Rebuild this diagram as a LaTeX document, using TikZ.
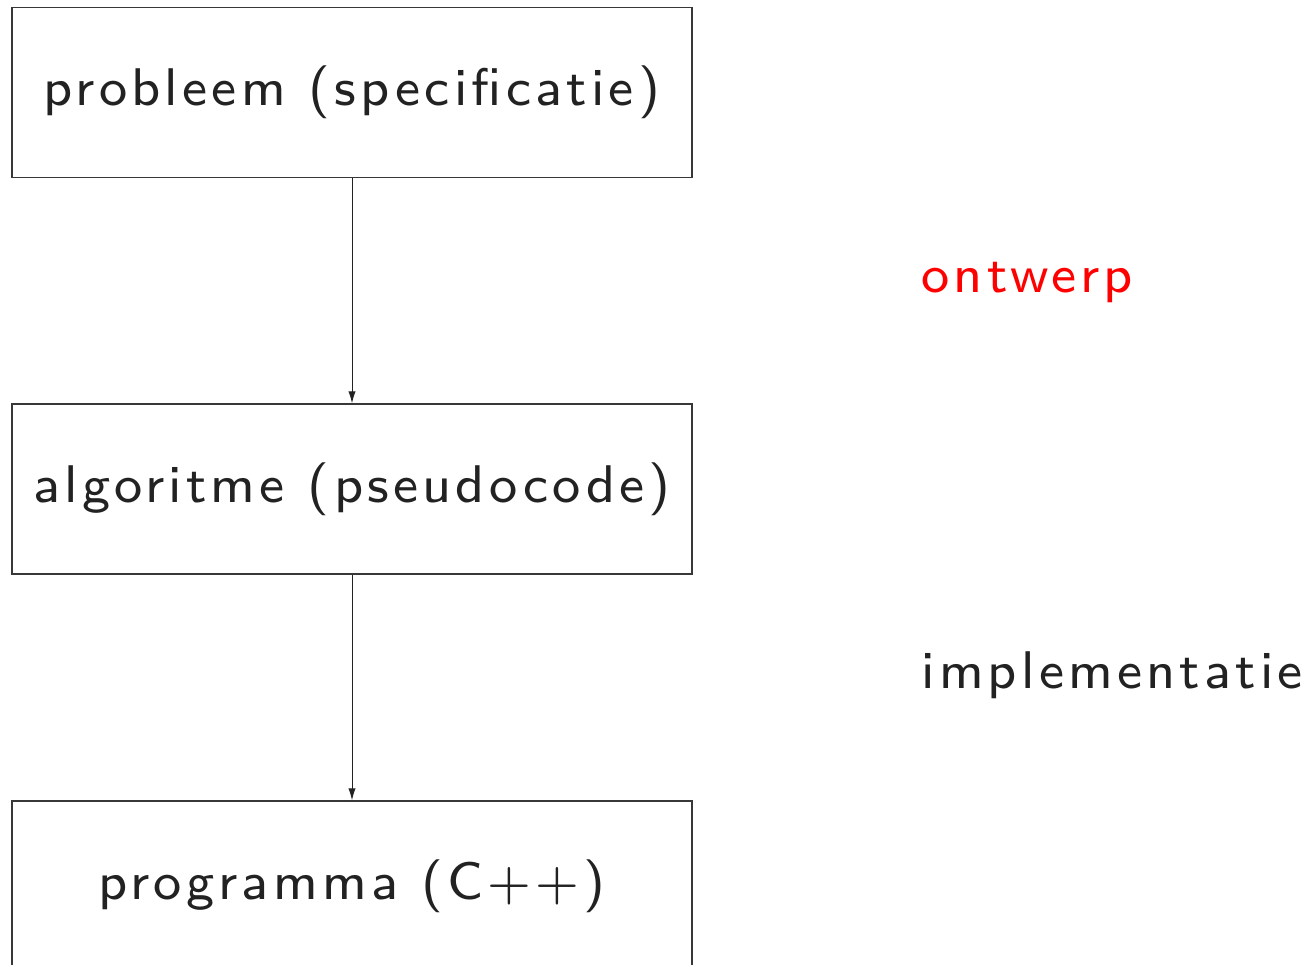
\documentclass[tikz,border=0pt]{standalone}
\usepackage{fontspec}
\newfontfamily\slidefont[Extension=.otf, LetterSpace=8]{lmsans8-regular}
\usetikzlibrary{arrows.meta}
\definecolor{ink}{HTML}{222222}
\tikzset{
  stage/.style={draw=ink!90, line width=0.6pt, minimum width=340pt, minimum height=85pt,
    inner sep=0pt, text=ink, font=\slidefont\fontsize{26.5}{30}\selectfont},
  flow/.style={draw=ink, line width=0.5pt, -{Latex[length=6pt,width=3.6pt]}},
  steplabel/.style={anchor=base west, inner sep=0pt, font=\slidefont\fontsize{26.5}{30}\selectfont}
}
\begin{document}
\begin{tikzpicture}[x=0.5pt,y=-0.5pt]
\useasboundingbox (0,0) rectangle (1306,964);
\clip (0,0) rectangle (1306,964);
\node[stage] (spec) at (352,92.5) {probleem (specificatie)};
\node[stage] (algo) at (352,489) {algoritme (pseudocode)};
\node[stage] (prog) at (352,886) {programma (C++)};
\draw[flow] (spec) -- (algo);
\draw[flow] (algo) -- (prog);
\node[steplabel, text=red] (ontwerp) at (921,292) {ontwerp};
\node[steplabel, text=ink] (impl) at (921,688) {implementatie};
\end{tikzpicture}
\end{document}
